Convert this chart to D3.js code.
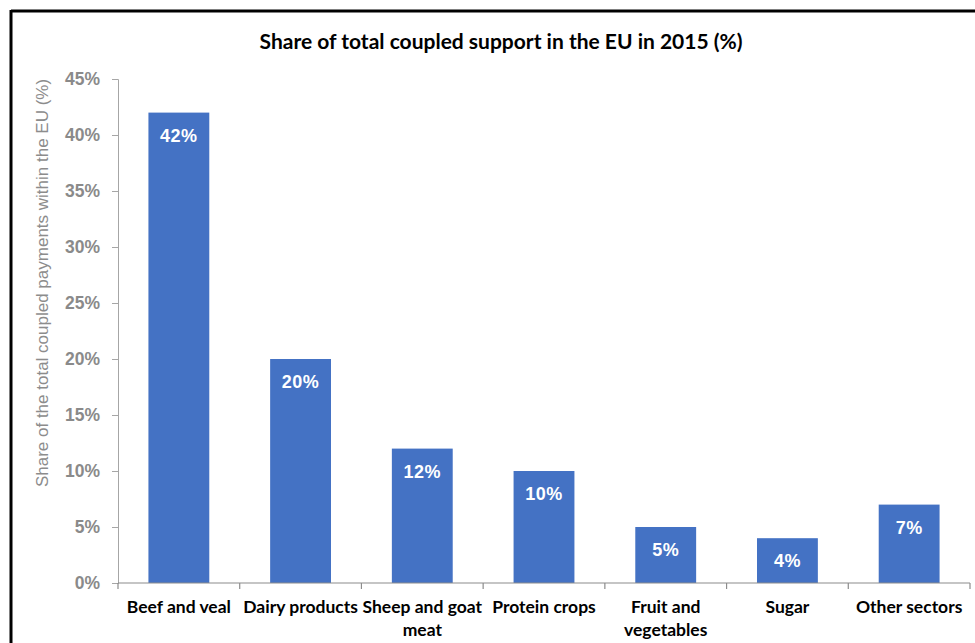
<!DOCTYPE html>
<html>
<head>
<meta charset="utf-8">
<script src="https://cdn.jsdelivr.net/npm/d3@7"></script>
<style>
  html, body { margin: 0; padding: 0; background: #fff; }
  svg { display: block; }
</style>
</head>
<body>
<svg id="chart" width="975" height="643"></svg>
<script>
// Sectors and their share of total coupled support (%)
const categories = [
  ["Beef and veal"],
  ["Dairy products"],
  ["Sheep and goat", "meat"],
  ["Protein crops"],
  ["Fruit and", "vegetables"],
  ["Sugar"],
  ["Other sectors"]
];
const shares = [42, 20, 12, 10, 5, 4, 7];
const yTicks = [0, 5, 10, 15, 20, 25, 30, 35, 40, 45];

const svg = d3.select("#chart");
const W = 975, H = 643;
const x0 = 118, x1 = 970, yTop = 79, yBottom = 583;

const keys = categories.map(c => c.join(" "));
const x = d3.scaleBand().domain(keys).range([x0, x1]).paddingInner(0.5).paddingOuter(0.25);
const y = d3.scaleLinear().domain([0, 45]).range([yBottom, yTop]);

// frame
svg.append("line").attr("x1", 11).attr("x2", W).attr("y1", 11).attr("y2", 11)
  .attr("stroke", "#000").attr("stroke-width", 3);
svg.append("line").attr("x1", 11).attr("x2", 11).attr("y1", 10).attr("y2", H)
  .attr("stroke", "#000").attr("stroke-width", 3);

// title
svg.append("text")
  .attr("x", 501).attr("y", 49)
  .attr("text-anchor", "middle")
  .attr("font-family", "Lato, 'Open Sans', sans-serif")
  .attr("font-weight", "bold")
  .attr("font-size", 21)
  .attr("fill", "#000")
  .text("Share of total coupled support in the EU in 2015 (%)");

// y axis
const yAxis = svg.append("g")
  .attr("transform", `translate(${x0},0)`)
  .call(d3.axisLeft(y).tickValues(yTicks).tickFormat(d => d + "%").tickSize(6).tickPadding(12));
yAxis.select(".domain").attr("stroke", "#a6a6a6");
yAxis.selectAll(".tick line").attr("stroke", "#a6a6a6");
yAxis.selectAll(".tick text")
  .attr("font-family", "'Liberation Sans', Arial, sans-serif")
  .attr("font-weight", "bold")
  .attr("font-size", 17.5)
  .attr("fill", "#8a8a8a");

// y axis title
svg.append("text")
  .attr("transform", `translate(48,283) rotate(-90)`)
  .attr("text-anchor", "middle")
  .attr("font-family", "'Liberation Sans', Arial, sans-serif")
  .attr("font-size", 17)
  .attr("fill", "#8c8c8c")
  .text("Share of the total coupled payments within the EU (%)");

// bars
svg.append("g").selectAll("rect")
  .data(shares)
  .join("rect")
  .attr("x", (d, i) => x(keys[i]))
  .attr("width", x.bandwidth())
  .attr("y", d => y(d))
  .attr("height", d => y(0) - y(d))
  .attr("fill", "#4472c4");

// value labels
svg.append("g").selectAll("text")
  .data(shares)
  .join("text")
  .attr("x", (d, i) => x(keys[i]) + x.bandwidth() / 2)
  .attr("y", d => y(d) + 29)
  .attr("text-anchor", "middle")
  .attr("font-family", "'Liberation Sans', Arial, sans-serif")
  .attr("font-weight", "bold")
  .attr("font-size", 18)
  .attr("letter-spacing", 0.5)
  .attr("fill", "#fff")
  .text(d => d + "%");

// x axis with ticks at category boundaries
const bounds = d3.range(keys.length + 1).map(i => x0 + i * (x1 - x0) / keys.length);
const gx = svg.append("g");
gx.append("line").attr("x1", x0).attr("x2", x1).attr("y1", yBottom).attr("y2", yBottom)
  .attr("stroke", "#8c8c8c").attr("stroke-width", 1.2);
gx.selectAll("line.tk").data(bounds).join("line").attr("class", "tk")
  .attr("x1", d => d).attr("x2", d => d).attr("y1", yBottom).attr("y2", yBottom + 6)
  .attr("stroke", "#8c8c8c").attr("stroke-width", 1.2);

// category labels
const lbl = svg.append("g").selectAll("text")
  .data(categories)
  .join("text")
  .attr("x", (d, i) => x(keys[i]) + x.bandwidth() / 2)
  .attr("y", 613)
  .attr("text-anchor", "middle")
  .attr("font-family", "Lato, 'Open Sans', sans-serif")
  .attr("font-weight", "bold")
  .attr("font-size", 17.5)
  .attr("fill", "#000");
lbl.selectAll("tspan")
  .data(d => d)
  .join("tspan")
  .attr("x", function () { return d3.select(this.parentNode).attr("x"); })
  .attr("dy", (d, i) => i === 0 ? 0 : 23)
  .text(d => d);
</script>
</body>
</html>
